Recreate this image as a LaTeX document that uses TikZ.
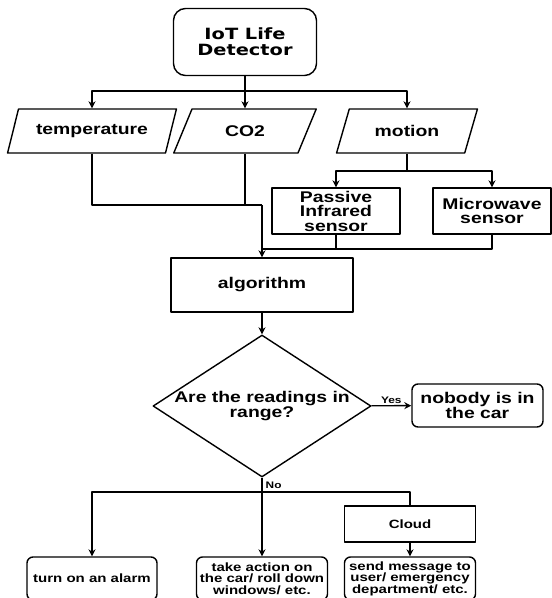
\documentclass[tikz,border=0pt]{standalone}
\usepackage{fontspec}
\setmainfont{Liberation Sans}[FakeStretch=1.25]
\newfontfamily\detfont{DejaVu Sans}[FakeStretch=1.25]
\usetikzlibrary{shapes.geometric,arrows.meta}

\begin{document}
\begin{tikzpicture}[x=1pt,y=-1pt,line join=round,>={Stealth[length=7pt,width=7pt]},
  every node/.style={inner sep=1pt,align=center,font=\fontsize{15.5}{14.5}\selectfont\bfseries},
  wire/.style={line width=1.4pt},
  box/.style={draw,line width=1.4pt,rectangle},
  rbox/.style={box,rounded corners=6pt},
  io/.style={draw,line width=1.4pt,trapezium,trapezium left angle=58,trapezium right angle=122,
    trapezium stretches=true,minimum height=44pt,inner sep=0pt},
  small/.style={font=\fontsize{12}{11.5}\selectfont\bfseries},
  tiny/.style={font=\fontsize{9.5}{10}\selectfont\bfseries}]
  \useasboundingbox (0,0) rectangle (552,598);
  % top of the chart
  \node[rbox,rounded corners=12pt,minimum width=143pt,minimum height=67pt,
    font=\detfont\fontsize{15.5}{16}\selectfont\bfseries] (det) at (245,42) {IoT Life\\Detector};
  \node[io,minimum width=169pt] (temp) at (92,131) {temperature};
  \node[io,minimum width=143pt] (co2) at (245,131) {CO2};
  \node[io,minimum width=142pt] (motion) at (407,131) {motion};
  \coordinate (top) at (245,91);
  \draw[wire] (det) -- (top);
  \draw[wire,->] (top) -| (temp);
  \draw[wire,->] (top) -- (co2);
  \draw[wire,->] (top) -| (motion);
  % sensors
  \node[box,minimum width=128pt,minimum height=46pt] (pir) at (336,211) {Passive\\Infrared\\sensor};
  \node[box,minimum width=118pt,minimum height=46pt] (mw) at (492,211) {Microwave\\sensor};
  \coordinate (msplit) at (407,171);
  \draw[wire] (motion) -- (msplit);
  \draw[wire,->] (msplit) -| (pir);
  \draw[wire,->] (msplit) -| (mw);
  % merge into the algorithm
  \node[box,minimum width=182pt,minimum height=54pt] (alg) at (262,285) {algorithm};
  \coordinate (jA) at (262,205);
  \coordinate (jB) at (262,249);
  \draw[wire] (temp) |- (jA);
  \draw[wire] (co2) -- (co2 |- jA);
  \draw[wire] (pir) |- (jB);
  \draw[wire] (mw) |- (jB);
  \draw[wire,->] (jA) -- (alg);
  % decision
  \node[draw,line width=1.4pt,diamond,minimum width=218pt,minimum height=142pt,inner sep=0pt,
    label={center:Are the readings in\\range?}] (dec) at (262,406) {};
  \draw[wire,->] (alg) -- (dec);
  \node[rbox,minimum width=131pt,minimum height=43pt] (nobody) at (477.5,405.5) {nobody is in\\the car};
  \draw[wire,->] (dec) -- (nobody) node[midway,above,tiny] {Yes};
  % actions
  \node[box,small,minimum width=131pt,minimum height=36pt] (cloud) at (410,524) {Cloud};
  \node[rbox,small,minimum width=130pt,minimum height=43pt] (alarm) at (92,578.5) {turn on an alarm};
  \node[rbox,small,minimum width=131pt,minimum height=43pt] (act) at (262,578.5) {take action on\\the car/ roll down\\windows/ etc.};
  \node[rbox,small,minimum width=131pt,minimum height=43pt] (msg) at (410,578.5) {send message to\\user/ emergency\\department/ etc.};
  \coordinate (nsplit) at (262,492);
  \draw[wire] (dec) -- (nsplit) node[midway,right=2pt,tiny] {No};
  \draw[wire,->] (nsplit) -| (alarm);
  \draw[wire,->] (nsplit) -- (act);
  \draw[wire] (nsplit) -| (cloud);
  \draw[wire,->] (cloud) -- (msg);
\end{tikzpicture}
\end{document}
